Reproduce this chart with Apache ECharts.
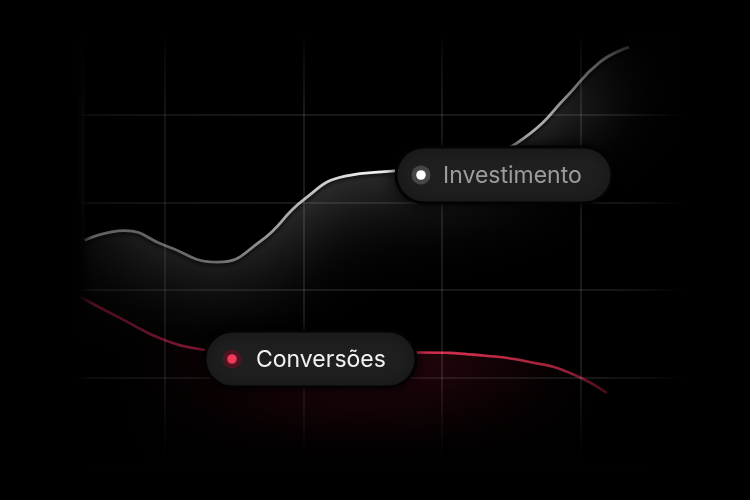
<!DOCTYPE html>
<html><head><meta charset="utf-8">
<script src="https://cdn.jsdelivr.net/npm/echarts@6/dist/echarts.min.js"></script>
<style>html,body{margin:0;padding:0;background:#000;}#c{width:750px;height:500px;}</style>
</head><body><div id="c"></div>
<script>
// ---- data ----
const seriesNames = ['Investimento', 'Conversões'];
const investX = [0.42, 0.71, 1.00, 1.38, 1.69, 2.00, 2.30, 2.66, 2.99, 3.35, 3.64, 3.89, 4.14, 4.35];
const investY = [2.57, 2.68, 2.51, 2.32, 2.56, 3.03, 3.30, 3.36, 3.41, 3.54, 3.79, 4.19, 4.60, 4.77];
const convX = [0.39, 0.68, 1.00, 1.33, 1.76, 2.26, 2.83, 3.27, 3.64, 3.92, 4.19];
const convY = [1.92, 1.68, 1.43, 1.31, 1.24, 1.24, 1.29, 1.26, 1.18, 1.06, 0.83];
const axisMin = 0, axisMax = 5, axisStep = 1;

const investData = investX.map((x, i) => [x, investY[i]]);
const convData = convX.map((x, i) => [x, convY[i]]);

const chart = echarts.init(document.getElementById('c'), null, {renderer: 'canvas'});
const G = echarts.graphic;

function fadeRect(z, x, y, w, h, x2, y2, stops) {
  return {
    type: 'rect', z: z, silent: true,
    shape: {x: x, y: y, width: w, height: h},
    style: {fill: new G.LinearGradient(0, 0, x2, y2, stops)}
  };
}
const K = a => 'rgba(0,0,0,' + a + ')';
const R = a => 'rgba(205,32,62,' + a + ')';

function pill(x, y, w, h, dotDx, textDx, dotHalo, dotFill, text, textColor) {
  const cy = y + h / 2;
  return {
    type: 'group', z: 100,
    children: [
      {type: 'rect', z: 100, shape: {x: x, y: y, width: w, height: h, r: h / 2},
       style: {fill: '#1f1f1f', stroke: '#030303', lineWidth: 3, shadowBlur: 14, shadowColor: 'rgba(0,0,0,0.85)'}},
      {type: 'circle', z: 101, shape: {cx: x + dotDx, cy: cy, r: 9.5}, style: {fill: dotHalo}},
      {type: 'circle', z: 102, shape: {cx: x + dotDx, cy: cy, r: 4.8}, style: {fill: dotFill}},
      {type: 'text', z: 102, x: x + textDx, y: cy + 1,
       style: {text: text, fill: textColor, font: '400 23px Inter, "Noto Sans", sans-serif', verticalAlign: 'middle', textVerticalAlign: 'middle'}}
    ]
  };
}

// red glow centred under the middle of the Conversões curve (pixel space)
const glowConv = {
  type: 'radial', global: true, x: 360, y: 350, r: 240,
  colorStops: [
    {offset: 0, color: R(0.2)},
    {offset: 0.45, color: R(0.12)},
    {offset: 0.8, color: R(0.03)},
    {offset: 1, color: R(0)}
  ]
};

const gridLine = {show: true, lineStyle: {color: 'rgba(255,255,255,0.13)', width: 1.6}};

chart.setOption({
  backgroundColor: '#000',
  animation: false,
  grid: {left: 26.5, right: 31, top: 27, bottom: 34.3},
  xAxis: {
    type: 'value', min: axisMin, max: axisMax, interval: axisStep, z: 4,
    axisLine: {show: false}, axisTick: {show: false}, axisLabel: {show: false},
    splitLine: gridLine
  },
  yAxis: {
    type: 'value', min: axisMin, max: axisMax, interval: axisStep, z: 4,
    axisLine: {show: false}, axisTick: {show: false}, axisLabel: {show: false},
    splitLine: gridLine
  },
  series: [
    {
      name: seriesNames[1], type: 'line', data: convData, smooth: 0.5,
      symbol: 'none', z: 2,
      lineStyle: {
        width: 2.6,
        color: new G.LinearGradient(0, 0, 1, 0, [
          {offset: 0, color: '#8a1830'},
          {offset: 0.09, color: '#7a1530'},
          {offset: 0.23, color: '#a01c3c'},
          {offset: 0.64, color: '#d2304f'},
          {offset: 0.76, color: '#c62c49'},
          {offset: 0.91, color: '#9a2038'},
          {offset: 1, color: '#5a1020'}
        ])
      },
      areaStyle: {color: glowConv, opacity: 1}
    },
    {
      name: seriesNames[0], type: 'line', data: investData, smooth: 0.5,
      symbol: 'none', z: 3,
      lineStyle: {
        width: 2.8,
        color: new G.LinearGradient(0, 0, 1, 0, [
          {offset: 0, color: '#b0b0b0'},
          {offset: 0.1, color: '#8a8a8a'},
          {offset: 0.25, color: '#7c7c7c'},
          {offset: 0.40, color: '#b8b8b8'},
          {offset: 0.50, color: '#e8e8e8'},
          {offset: 0.57, color: '#f4f4f4'},
          {offset: 0.79, color: '#b0b0b0'},
          {offset: 0.91, color: '#a0a0a0'},
          {offset: 1, color: '#dddddd'}
        ]),
        shadowColor: 'rgba(0,0,0,1)', shadowBlur: 4, shadowOffsetY: 1.5
      },
      // the region above the curve is black; its soft light shadow gives the glow under the curve
      areaStyle: {
        origin: 'end', color: '#000', opacity: 1,
        shadowColor: 'rgba(255,255,255,0.25)', shadowBlur: 90, shadowOffsetY: 16
      }
    }
  ],
  graphic: [
    // edge fading (over grid and curves)
    fadeRect(5, 0, 0, 300, 500, 1, 0, [{offset: 0, color: K(1)}, {offset: 0.26, color: K(1)}, {offset: 0.307, color: K(0.45)}, {offset: 0.433, color: K(0.3)}, {offset: 0.733, color: K(0.12)}, {offset: 1, color: K(0)}]),
    fadeRect(5, 600, 0, 150, 500, 1, 0, [{offset: 0, color: K(0)}, {offset: 0.27, color: K(0.35)}, {offset: 0.55, color: K(1)}, {offset: 1, color: K(1)}]),
    fadeRect(5, 0, 0, 750, 115, 0, 1, [{offset: 0, color: K(1)}, {offset: 0.3, color: K(1)}, {offset: 0.48, color: K(0.6)}, {offset: 1, color: K(0)}]),
    fadeRect(5, 0, 370, 750, 130, 0, 1, [{offset: 0, color: K(0)}, {offset: 0.6, color: K(0.9)}, {offset: 0.75, color: K(1)}, {offset: 1, color: K(1)}]),
    pill(396, 147, 216, 56, 25, 47, '#464646', '#ffffff', seriesNames[0], '#9c9c9c'),
    pill(205, 331, 211, 56, 27, 51, '#4c1520', '#f03a5b', seriesNames[1], '#f2f2f2')
  ]
});
</script>
</body></html>
